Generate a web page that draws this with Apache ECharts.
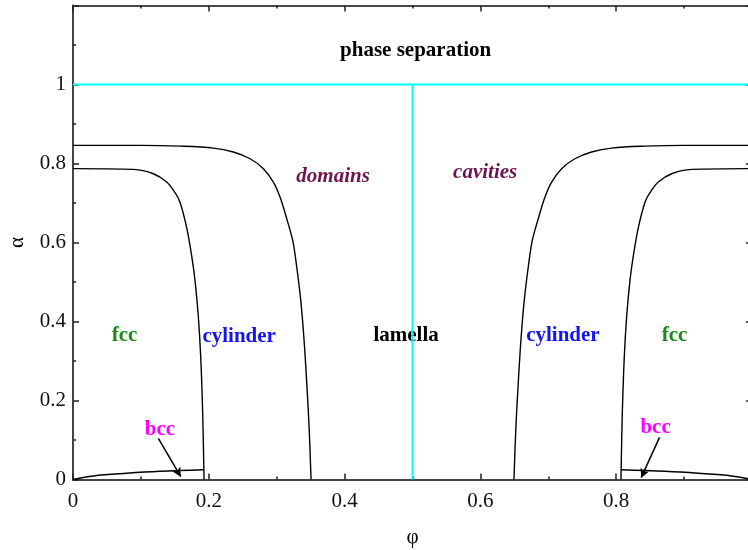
<!DOCTYPE html>
<html>
<head>
<meta charset="utf-8">
<script src="https://cdn.jsdelivr.net/npm/echarts@6/dist/echarts.min.js"></script>
<style>
  html, body { margin: 0; padding: 0; background: #fff; }
  #main { width: 748px; height: 550px; }
</style>
</head>
<body>
<div id="main"></div>
<script>
// phase boundaries, [phi, alpha]
var domainLeft = [
  [0, 0.846], [0.10, 0.846], [0.1576, 0.844], [0.2067, 0.839], [0.2362, 0.829],
  [0.2608, 0.812], [0.2804, 0.787], [0.2951, 0.753], [0.3049, 0.715],
  [0.3148, 0.660], [0.3237, 0.604], [0.3295, 0.538], [0.3354, 0.454],
  [0.3403, 0.353], [0.3443, 0.243], [0.3477, 0.1335], [0.3506, 0]
];
var domainRight = [
  [0.6494, 0], [0.6523, 0.1335], [0.6557, 0.243], [0.6597, 0.353], [0.6646, 0.454],
  [0.6705, 0.538], [0.6763, 0.604], [0.6852, 0.660], [0.6951, 0.715],
  [0.7049, 0.753], [0.7196, 0.787], [0.7392, 0.812], [0.7638, 0.829],
  [0.7933, 0.839], [0.8424, 0.844], [0.90, 0.846], [1, 0.846]
];
var cylLeft = [
  [0, 0.787], [0.0889, 0.785], [0.1183, 0.774], [0.1380, 0.753], [0.1503, 0.726],
  [0.1576, 0.702], [0.1675, 0.637], [0.1749, 0.565], [0.1797, 0.504],
  [0.1846, 0.412], [0.1881, 0.310], [0.1910, 0.167], [0.1930, 0]
];
var cylRight = [
  [0.807, 0], [0.809, 0.167], [0.8119, 0.310], [0.8154, 0.412], [0.8203, 0.504],
  [0.8251, 0.565], [0.8325, 0.637], [0.8424, 0.702], [0.8497, 0.726],
  [0.862, 0.753], [0.8817, 0.774], [0.9111, 0.785], [1, 0.787]
];
var bccLeft = [[0, 0], [0.03, 0.009], [0.079, 0.0157], [0.128, 0.0207], [0.193, 0.0248]];
var bccRight = [[0.807, 0.0248], [0.872, 0.0207], [0.921, 0.0157], [0.97, 0.009], [1, 0]];
var sepLine = [[0, 1], [1, 1]];
var midLine = [[0.5, 0], [0.5, 1]];

var xTicks = [0, 0.2, 0.4, 0.6, 0.8];
var yTicks = [0, 0.2, 0.4, 0.6, 0.8, 1];

var regionNames = ['phase separation', 'domains', 'cavities', 'fcc', 'cylinder', 'lamella', 'cylinder', 'fcc', 'bcc', 'bcc'];
var regionX = [0.5046, 0.383, 0.607, 0.0759, 0.2447, 0.4906, 0.7215, 0.886, 0.128, 0.858];
var regionY = [1.086, 0.768, 0.776, 0.364, 0.363, 0.364, 0.364, 0.364, 0.126, 0.131];

var arrows = [
  [[0.1257, 0.104], [0.1587, 0.007]],
  [[0.8638, 0.1067], [0.8368, 0.0046]]
];

var regionStyle = {
  'phase separation': { color: '#000', fontStyle: 'normal' },
  'domains': { color: '#6e1450', fontStyle: 'italic' },
  'cavities': { color: '#6e1450', fontStyle: 'italic' },
  'fcc': { color: '#1a8a1a', fontStyle: 'normal' },
  'cylinder': { color: '#1414f0', fontStyle: 'normal' },
  'lamella': { color: '#000', fontStyle: 'normal' },
  'bcc': { color: '#ff00ff', fontStyle: 'normal' }
};

var FONT = 'Liberation Serif';
var chart = echarts.init(document.getElementById('main'), null, { renderer: 'canvas' });

function curve(name, data, color, width, smooth) {
  return {
    name: name, type: 'line', data: data, showSymbol: false, symbol: 'none',
    smooth: smooth || false,
    lineStyle: { color: color, width: width }, silent: true, clip: true
  };
}

var labelData = regionNames.map(function (n, i) {
  var st = regionStyle[n];
  return {
    name: n, value: [regionX[i], regionY[i]],
    label: { color: st.color, fontStyle: st.fontStyle }
  };
});

var tickFmt = function (list) {
  return function (v) {
    for (var i = 0; i < list.length; i++) {
      if (Math.abs(list[i] - v) < 1e-9) return String(list[i]);
    }
    return '';
  };
};

var tickStyle = { color: '#222', width: 1.5 };

var option = {
  animation: false,
  backgroundColor: '#fff',
  grid: { left: 73, right: -4, top: 5.5, bottom: 70.5, containLabel: false, outerBoundsMode: 'none' },
  xAxis: [{
    type: 'value', min: 0, max: 1, interval: 0.2, position: 'bottom',
    name: 'φ', nameLocation: 'middle', nameGap: 47,
    nameTextStyle: { fontFamily: FONT, fontSize: 21, color: '#000' },
    axisLine: { onZero: false, lineStyle: { color: '#444', width: 2 } },
    axisTick: { inside: true, length: 6, lineStyle: tickStyle },
    minorTick: { show: true, splitNumber: 2, length: 3, lineStyle: tickStyle },
    splitLine: { show: false },
    axisLabel: { fontFamily: FONT, fontSize: 21, color: '#111', margin: 11, showMaxLabel: false, formatter: tickFmt(xTicks) }
  }, {
    type: 'value', min: 0, max: 1, interval: 0.2, position: 'top',
    axisLine: { onZero: false, lineStyle: { color: '#111', width: 1.5 } },
    axisTick: { inside: true, length: 6, lineStyle: tickStyle },
    minorTick: { show: true, splitNumber: 2, length: 3, lineStyle: tickStyle },
    splitLine: { show: false }, axisLabel: { show: false }
  }],
  yAxis: [{
    type: 'value', min: 0, max: 1.2, interval: 0.2, position: 'left',
    name: 'α', nameLocation: 'middle', nameGap: 45, nameRotate: 90,
    nameTextStyle: { fontFamily: FONT, fontSize: 21, color: '#000' },
    axisLine: { onZero: false, lineStyle: { color: '#444', width: 2 } },
    axisTick: { inside: true, length: 6, lineStyle: tickStyle },
    minorTick: { show: true, splitNumber: 2, length: 3, lineStyle: tickStyle },
    splitLine: { show: false },
    axisLabel: { fontFamily: FONT, fontSize: 21, color: '#111', margin: 7, showMaxLabel: false, formatter: tickFmt(yTicks) }
  }, {
    type: 'value', min: 0, max: 1.2, interval: 0.2, position: 'right',
    axisLine: { onZero: false, lineStyle: { color: '#111', width: 1.5 } },
    axisTick: { inside: true, length: 6, lineStyle: tickStyle },
    minorTick: { show: true, splitNumber: 2, length: 3, lineStyle: tickStyle },
    splitLine: { show: false }, axisLabel: { show: false }
  }],
  series: [
    curve('separation', sepLine, '#00ffff', 2),
    curve('symmetry', midLine, '#00ffff', 2),
    curve('domainLeft', domainLeft, '#000', 1.4, 0.35),
    curve('domainRight', domainRight, '#000', 1.4, 0.35),
    curve('cylLeft', cylLeft, '#000', 1.4, 0.35),
    curve('cylRight', cylRight, '#000', 1.4, 0.35),
    curve('bccLeft', bccLeft, '#000', 1.4, 0.35),
    Object.assign(curve('bccRight', bccRight, '#000', 1.4, 0.35), {
      markLine: {
        silent: true, symbol: ['none', 'arrow'], symbolSize: [7, 9],
        lineStyle: { color: '#000', width: 1.5, type: 'solid' },
        label: { show: false },
        data: arrows.map(function (a) {
          return [{ coord: a[0] }, { coord: a[1] }];
        })
      }
    }),
    {
      name: 'regions', type: 'scatter', symbolSize: 0, silent: true,
      itemStyle: { opacity: 1 },
      data: labelData,
      label: {
        show: true, position: 'inside', formatter: function (p) { return p.name; },
        fontFamily: FONT, fontSize: 21, fontWeight: 'bold', opacity: 1
      }
    }
  ]
};

chart.setOption(option);
</script>
</body>
</html>
